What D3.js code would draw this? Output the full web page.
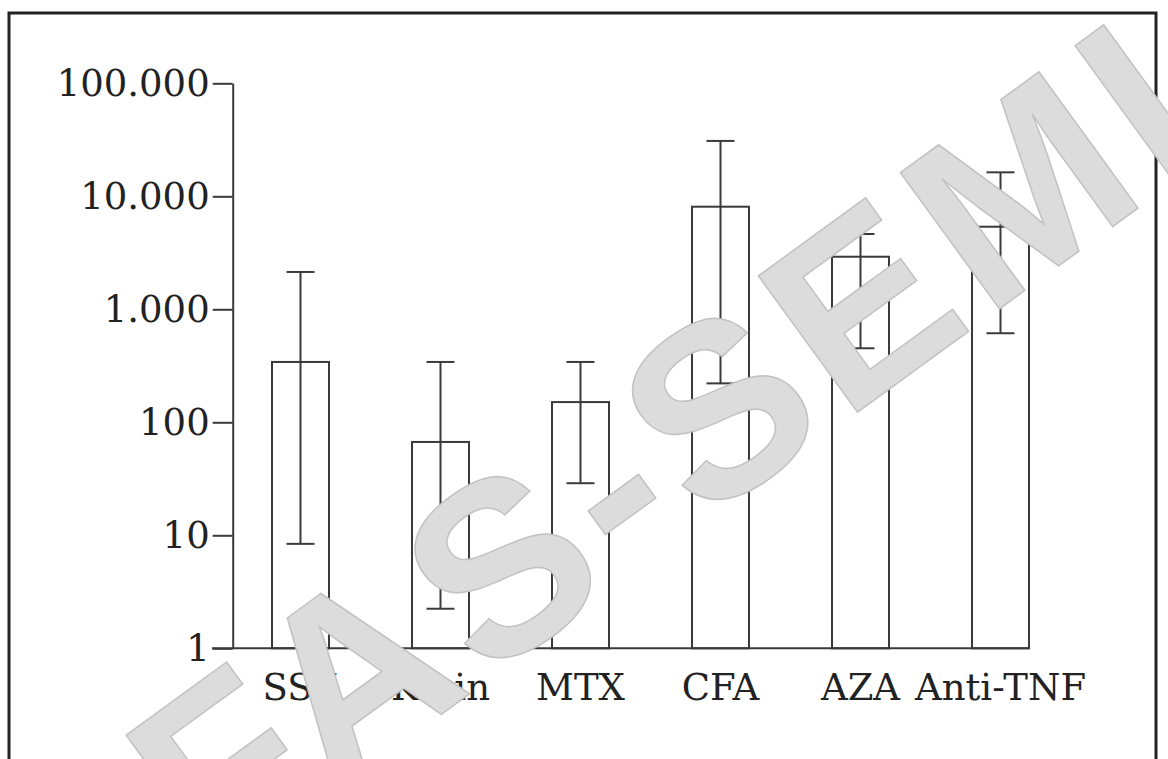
<!DOCTYPE html>
<html>
<head>
<meta charset="utf-8">
<script src="https://cdn.jsdelivr.net/npm/d3@7"></script>
<style>
  html, body { margin: 0; padding: 0; background: #fff; }
  svg { display: block; }
</style>
</head>
<body>
<svg id="chart" width="1168" height="759"></svg>
<script>
// values (log scale)
const categories = ["SSZ", "Kinin", "MTX", "CFA", "AZA", "Anti-TNF"];
const means = [342, 67, 151, 8090, 2920, 5380];
const errLow = [8.4, 2.24, 28.9, 221, 452, 614];
const errHigh = [2140, 342, 342, 30900, 4640, 16300];
const yTicks = [1, 10, 100, 1000, 10000, 100000];
const yTickLabels = ["1", "10", "100", "1.000", "10.000", "100.000"];

const svg = d3.select("#chart");
const ink = "#3a3a3a";
const font = "'DejaVu Serif', serif";

// frame
svg.append("rect")
  .attr("x", 9).attr("y", 13)
  .attr("width", 1147).attr("height", 780)
  .attr("fill", "none")
  .attr("stroke", "#222")
  .attr("stroke-width", 3);

const x = d3.scaleBand()
  .domain(categories)
  .range([230.5, 1070.5])
  .paddingInner(0.593)
  .paddingOuter(0.2965);

const y = d3.scaleLog()
  .domain([1, 100000])
  .range([648.3, 83.3]);

// y axis
const yAxis = d3.axisLeft(y)
  .tickValues(yTicks)
  .tickFormat((d, i) => yTickLabels[i])
  .tickSize(20)
  .tickSizeOuter(0)
  .tickPadding(3);

const gy = svg.append("g")
  .attr("transform", "translate(232.7,0)")
  .call(yAxis);
gy.select(".domain").attr("stroke", ink).attr("stroke-width", 2);
gy.selectAll(".tick line").attr("stroke", ink).attr("stroke-width", 2);
gy.selectAll(".tick text")
  .attr("font-family", font)
  .attr("font-size", 37)
  .attr("fill", "#222");

// bars
svg.selectAll(".bar")
  .data(categories)
  .enter()
  .append("rect")
  .attr("class", "bar")
  .attr("x", d => x(d))
  .attr("y", (d, i) => y(means[i]))
  .attr("width", x.bandwidth())
  .attr("height", (d, i) => y(1) - y(means[i]))
  .attr("fill", "#fff")
  .attr("stroke", ink)
  .attr("stroke-width", 2);

// baseline
svg.append("line")
  .attr("x1", 212)
  .attr("x2", x(categories[categories.length - 1]) + x.bandwidth())
  .attr("y1", y(1)).attr("y2", y(1))
  .attr("stroke", ink)
  .attr("stroke-width", 2);

// error bars
const cap = 14;
const eb = svg.selectAll(".err")
  .data(categories)
  .enter()
  .append("g")
  .attr("class", "err")
  .attr("stroke", ink)
  .attr("stroke-width", 2);

eb.append("line")
  .attr("x1", d => x(d) + x.bandwidth() / 2)
  .attr("x2", d => x(d) + x.bandwidth() / 2)
  .attr("y1", (d, i) => y(errLow[i]))
  .attr("y2", (d, i) => y(errHigh[i]));
eb.append("line")
  .attr("x1", d => x(d) + x.bandwidth() / 2 - cap)
  .attr("x2", d => x(d) + x.bandwidth() / 2 + cap)
  .attr("y1", (d, i) => y(errLow[i]))
  .attr("y2", (d, i) => y(errLow[i]));
eb.append("line")
  .attr("x1", d => x(d) + x.bandwidth() / 2 - cap)
  .attr("x2", d => x(d) + x.bandwidth() / 2 + cap)
  .attr("y1", (d, i) => y(errHigh[i]))
  .attr("y2", (d, i) => y(errHigh[i]));

// category labels
svg.selectAll(".cat")
  .data(categories)
  .enter()
  .append("text")
  .attr("class", "cat")
  .attr("x", d => x(d) + x.bandwidth() / 2)
  .attr("y", 700)
  .attr("text-anchor", "middle")
  .attr("font-family", font)
  .attr("font-size", 37)
  .attr("fill", "#222")
  .text(d => d);

// watermark over the chart (runs off the edges like in the original)
svg.append("text")
  .attr("transform", "translate(212,881) rotate(-36)")
  .attr("font-family", "'Liberation Sans', Arial, sans-serif")
  .attr("font-weight", "bold")
  .attr("font-size", 245)
  .attr("letter-spacing", 12)
  .attr("fill", "#dcdcdc")
  .attr("stroke", "#c2c2c2")
  .attr("stroke-width", 1.5)
  .text("FAS-SEMI");
</script>
</body>
</html>
